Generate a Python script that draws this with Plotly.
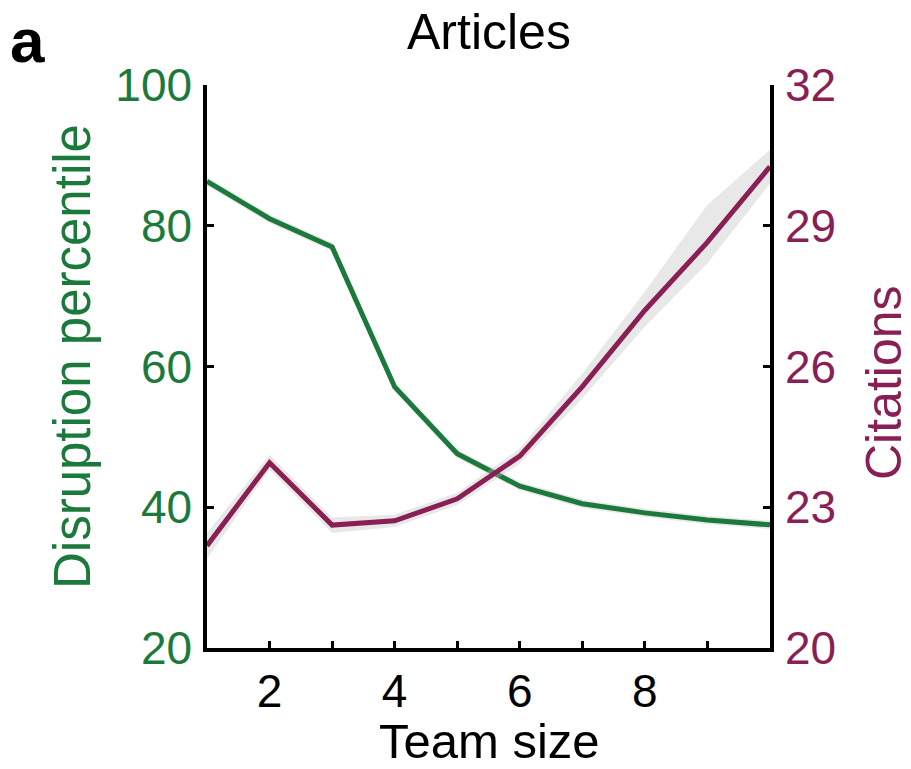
import plotly.graph_objects as go

team_size = [1, 2, 3, 4, 5, 6, 7, 8, 9, 10]
disruption = [86.3, 81.0, 77.0, 57.1, 47.6, 43.0, 40.5, 39.2, 38.2, 37.5]
disruption_lo = [85.7, 80.4, 76.4, 56.5, 47.0, 42.4, 39.9, 38.6, 37.6, 36.9]
disruption_hi = [86.9, 81.6, 77.6, 57.7, 48.2, 43.6, 41.1, 39.8, 38.8, 38.1]
citations = [22.18, 23.95, 22.62, 22.71, 23.18, 24.09, 25.57, 27.2, 28.65, 30.26]
citations_lo = [21.9, 23.8, 22.45, 22.58, 23.05, 23.93, 25.32, 26.85, 28.2, 29.9]
citations_hi = [22.45, 24.12, 22.78, 22.84, 23.31, 24.25, 25.85, 27.6, 29.45, 30.62]
left_ticks = [20, 40, 60, 80, 100]
right_ticks = [20, 23, 26, 29, 32]
x_ticks = [2, 3, 4, 5, 6, 7, 8, 9]
x_ticktext = ["2", "", "4", "", "6", "", "8", ""]

GREEN = "#1b7a3b"
PURPLE = "#8a1f55"
BAND = "rgba(190,190,190,0.35)"
FONT = "Liberation Sans"

W, H = 911, 769
PL, PR, PT, PB = 207, 770, 85, 648  # plot box in page px
L, R, T, B = PL, W - PR, PT, H - PB
pw, ph = PR - PL, PB - PT

def px(x):
    return (x - PL) / pw

def py(y):
    return (PB - y) / ph

fig = go.Figure()

fig.add_trace(go.Scatter(
    x=team_size + team_size[::-1], y=disruption_hi + disruption_lo[::-1],
    fill="toself", fillcolor=BAND, line=dict(width=0), mode="lines",
    hoverinfo="skip", showlegend=False, yaxis="y"))
fig.add_trace(go.Scatter(
    x=team_size + team_size[::-1], y=citations_hi + citations_lo[::-1],
    fill="toself", fillcolor=BAND, line=dict(width=0), mode="lines",
    hoverinfo="skip", showlegend=False, yaxis="y2"))
fig.add_trace(go.Scatter(
    x=team_size, y=disruption, mode="lines",
    line=dict(color=GREEN, width=5), showlegend=False, yaxis="y"))
fig.add_trace(go.Scatter(
    x=team_size, y=citations, mode="lines",
    line=dict(color=PURPLE, width=5), showlegend=False, yaxis="y2"))

fig.update_layout(
    width=W, height=H,
    margin=dict(l=L, r=R, t=T, b=B, autoexpand=False),
    paper_bgcolor="white", plot_bgcolor="white",
    font=dict(family=FONT, size=46, color="black"),
    showlegend=False,
    xaxis=dict(
        range=[1, 10], tickvals=x_ticks, ticktext=x_ticktext,
        ticks="inside", ticklen=7, tickwidth=3, tickcolor="black",
        showline=True, linewidth=3.5, linecolor="black",
        showgrid=False, zeroline=False,
        tickfont=dict(family=FONT, size=46, color="black"),
    ),
    yaxis=dict(
        range=[20, 100], tickvals=left_ticks,
        ticks="inside", ticklen=7, tickwidth=3, tickcolor="black",
        showline=True, linewidth=3.5, linecolor="black",
        showgrid=False, zeroline=False,
        tickfont=dict(family=FONT, size=46, color=GREEN),
        ticklabelstandoff=2,
    ),
    yaxis2=dict(
        range=[20, 32], tickvals=right_ticks, overlaying="y", side="right",
        ticks="inside", ticklen=7, tickwidth=3, tickcolor="black",
        showline=True, linewidth=3.5, linecolor="black",
        showgrid=False, zeroline=False,
        tickfont=dict(family=FONT, size=46, color=PURPLE),
        ticklabelstandoff=2,
    ),
    annotations=[
        dict(text="Articles", x=px(488.5), y=py(32), xref="paper", yref="paper",
             showarrow=False, font=dict(family=FONT, size=50, color="black"),
             yanchor="middle", xanchor="center"),
        dict(text="<b>a</b>", x=px(27), y=py(40), xref="paper", yref="paper",
             showarrow=False, font=dict(family=FONT, size=62, color="black"),
             xanchor="center", yanchor="middle"),
        dict(text="Team size", x=px(490), y=py(741), xref="paper", yref="paper",
             showarrow=False, font=dict(family=FONT, size=49, color="black"),
             xanchor="center", yanchor="middle"),
        dict(text="Disruption percentile", x=px(72), y=py(357), xref="paper", yref="paper",
             showarrow=False, textangle=-90,
             font=dict(family=FONT, size=51, color=GREEN),
             xanchor="center", yanchor="middle"),
        dict(text="Citations", x=px(884), y=py(383), xref="paper", yref="paper",
             showarrow=False, textangle=-90,
             font=dict(family=FONT, size=50, color=PURPLE),
             xanchor="center", yanchor="middle"),
    ],
)

fig.write_html(
    "out.html",
    config={"displayModeBar": False},
    post_script="document.body.style.margin='0';document.body.style.overflow='hidden';",
)
